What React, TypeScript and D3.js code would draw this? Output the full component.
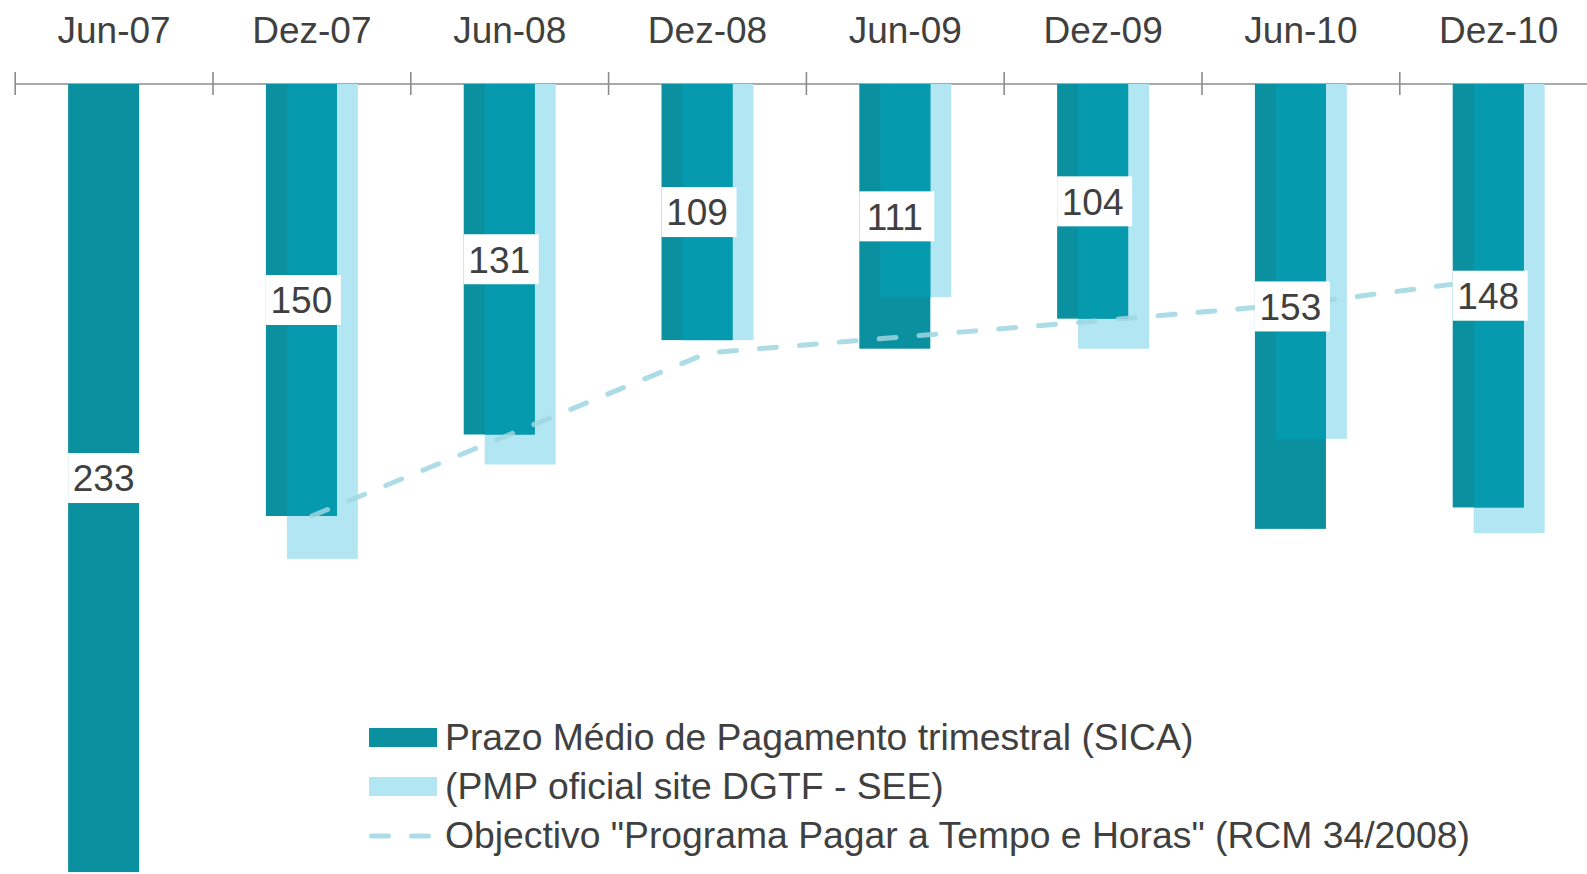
import React from "react";
import * as d3 from "d3";

const periods = ["Jun-07", "Dez-07", "Jun-08", "Dez-08", "Jun-09", "Dez-09", "Jun-10", "Dez-10"];
// Prazo Médio de Pagamento trimestral (SICA)
const pmpSica = [233, 150, 131, 109, 111, 104, 153, 148];
// PMP oficial site DGTF - SEE
const pmpOficial: (number | null)[] = [null, 160, 138, 109, 99, 111, 132, 154];
// Objectivo "Programa Pagar a Tempo e Horas"
const objectivo: (number | null)[] = [null, 150, 131, 112, 108.2, 104.4, 100.5, 94.6];

const legendItems = [
  "Prazo Médio de Pagamento trimestral (SICA)",
  "(PMP oficial site DGTF - SEE)",
  "Objectivo \"Programa Pagar a Tempo e Horas\" (RCM 34/2008)",
];

const W = 1587;
const H = 874;
const DARK = "#0b909f";
const OVERLAP = "#069aaf";
const LIGHT = "#b3e6f3";
const LINE = "#9dd6e0";
const TEXT = "#404040";
const FONT = "'Liberation Sans', Arial, sans-serif";

const App = () => {
  const x = d3
    .scaleBand()
    .domain(periods)
    .range([15.2, 15.2 + 8 * 197.8])
    .paddingInner(0)
    .paddingOuter(0);

  // reversed axis: bars hang from the top axis
  const y = d3.scaleLinear().domain([49.3, 150]).range([84, 516]);
  const base = y(49.3);

  const step = x.step();
  const barW = step * 0.359;
  const shift = step * 0.053;
  const center = (p: string) => (x(p) as number) + x.bandwidth() / 2;

  const line = d3
    .line<number | null>()
    .defined((d) => d != null)
    .x((_, i) => center(periods[i]))
    .y((d) => y(d as number));

  const ticks = [...periods.map((p) => x(p) as number), x.range()[1]];

  return (
    <svg
      width={W}
      height={H}
      style={{ position: "fixed", left: 0, top: 0, background: "#fff" }}
      fontFamily={FONT}
    >
      {/* category labels */}
      {periods.map((p) => (
        <text key={p} x={center(p)} y={43} textAnchor="middle" fontSize={37} fill={TEXT}>
          {p}
        </text>
      ))}

      {/* axis */}
      <line x1={15.2} x2={W} y1={base} y2={base} stroke="#8c8c8c" strokeWidth={1.6} />
      {ticks.map((t, i) => (
        <line key={i} x1={t} x2={t} y1={72} y2={95} stroke="#8c8c8c" strokeWidth={1.6} />
      ))}

      {/* bars */}
      {periods.map((p, i) => {
        const c = center(p);
        const dx = c - shift - barW / 2;
        const lx = c + shift - barW / 2;
        const dy = y(pmpSica[i]);
        const lv = pmpOficial[i];
        const ly = lv != null ? y(lv) : base;
        return (
          <g key={p}>
            {lv != null && <rect x={lx} y={base} width={barW} height={ly - base} fill={LIGHT} />}
            <rect x={dx} y={base} width={barW} height={dy - base} fill={DARK} />
            {lv != null && (
              <rect x={lx} y={base} width={dx + barW - lx} height={Math.min(dy, ly) - base} fill={OVERLAP} />
            )}
          </g>
        );
      })}

      {/* objective line */}
      <path
        d={line(objectivo) || ""}
        fill="none"
        stroke={LINE}
        strokeOpacity={0.85}
        strokeWidth={5}
        strokeDasharray="17 23"
        strokeLinecap="round"
      />

      {/* value labels */}
      {periods.map((p, i) => {
        const c = center(p);
        const dx = c - shift - barW / 2;
        const mid = (base + y(pmpSica[i])) / 2;
        return (
          <g key={p}>
            <rect x={dx} y={mid - 25} width={75} height={50} fill="#fff" />
            <text x={dx + barW / 2} y={mid} dy="0.36em" textAnchor="middle" fontSize={37} fill={TEXT}>
              {pmpSica[i]}
            </text>
          </g>
        );
      })}

      {/* legend */}
      <g>
        <rect x={369} y={728} width={68} height={19} fill={DARK} />
        <text x={445} y={750} fontSize={37.3} fill={TEXT}>{legendItems[0]}</text>
        <rect x={369} y={777} width={68} height={19} fill={LIGHT} />
        <text x={445} y={799} fontSize={37.3} fill={TEXT}>{legendItems[1]}</text>
        <line
          x1={371.5}
          x2={434.5}
          y1={836}
          y2={836}
          stroke={LINE}
          strokeOpacity={0.85}
          strokeWidth={5}
          strokeDasharray="17 23"
          strokeLinecap="round"
        />
        <text x={445} y={848} fontSize={37.3} fill={TEXT}>{legendItems[2]}</text>
      </g>
    </svg>
  );
};

export default App;
